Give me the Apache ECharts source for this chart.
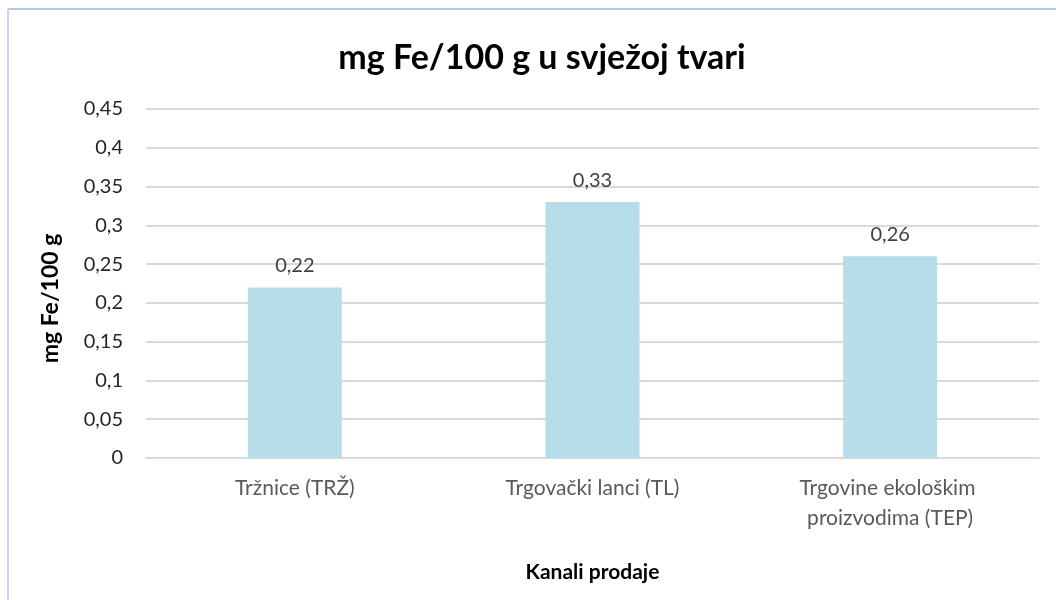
<!DOCTYPE html>
<html>
<head>
<meta charset="utf-8">
<script src="https://cdn.jsdelivr.net/npm/echarts@6/dist/echarts.min.js"></script>
<style>
html,body{margin:0;padding:0;background:#fff;}
#c{width:1056px;height:600px;}
</style>
</head>
<body>
<div id="c"></div>
<script>
const categories = ['Tržnice (TRŽ)', 'Trgovački lanci (TL)', 'Trgovine ekološkim proizvodima (TEP)'];
const values = [0.22, 0.33, 0.26];
const titleText = 'mg Fe/100 g u svježoj tvari';
const yAxisName = 'mg Fe/100 g';
const xAxisName = 'Kanali prodaje';

const fmt = v => String(Math.round(v * 100) / 100).replace('.', ',');
const FONT = 'Lato, "Open Sans", sans-serif';

const chart = echarts.init(document.getElementById('c'), null, {renderer: 'canvas'});
chart.setOption({
  backgroundColor: '#fff',
  animation: false,
  graphic: [
    {type: 'line', shape: {x1: 8, y1: 9, x2: 1056, y2: 9}, style: {stroke: '#b4c7e7', lineWidth: 2}},
    {type: 'line', shape: {x1: 8, y1: 9, x2: 8, y2: 600}, style: {stroke: '#c9d6ee', lineWidth: 2}}
  ],
  title: {
    text: titleText,
    left: 537, top: 36, textAlign: 'center',
    textStyle: {fontFamily: FONT, fontSize: 34, fontWeight: 'bold', color: '#000'}
  },
  grid: {left: 146, right: 17, top: 109, bottom: 142},
  xAxis: {
    type: 'category',
    data: categories,
    name: xAxisName,
    nameLocation: 'middle',
    nameGap: 104,
    nameTextStyle: {fontFamily: FONT, fontSize: 21, fontWeight: 'bold', color: '#000'},
    axisLine: {show: true, lineStyle: {color: '#d9d9d9', width: 2}},
    axisTick: {show: false},
    axisLabel: {
      interval: 0,
      fontFamily: FONT, fontSize: 21, color: '#595959', margin: 15,
      width: 240, overflow: 'break', lineHeight: 30
    }
  },
  yAxis: {
    type: 'value',
    min: 0, max: 0.45, interval: 0.05,
    name: yAxisName,
    nameLocation: 'middle',
    nameGap: 84,
    nameTextStyle: {fontFamily: FONT, fontSize: 23, fontWeight: 'bold', color: '#000', padding: [0, 30, 0, 0]},
    axisLine: {show: false},
    axisTick: {show: false},
    splitLine: {lineStyle: {color: '#d9d9d9', width: 2}},
    axisLabel: {
      fontFamily: FONT, fontSize: 20, color: '#262626', margin: 23,
      formatter: fmt
    }
  },
  series: [{
    type: 'bar',
    data: values,
    barWidth: 94,
    itemStyle: {color: '#b7dde8'},
    label: {
      show: true, position: 'top', distance: 12,
      fontFamily: FONT, fontSize: 20, color: '#404040',
      formatter: p => fmt(p.value)
    }
  }]
});
</script>
</body>
</html>
